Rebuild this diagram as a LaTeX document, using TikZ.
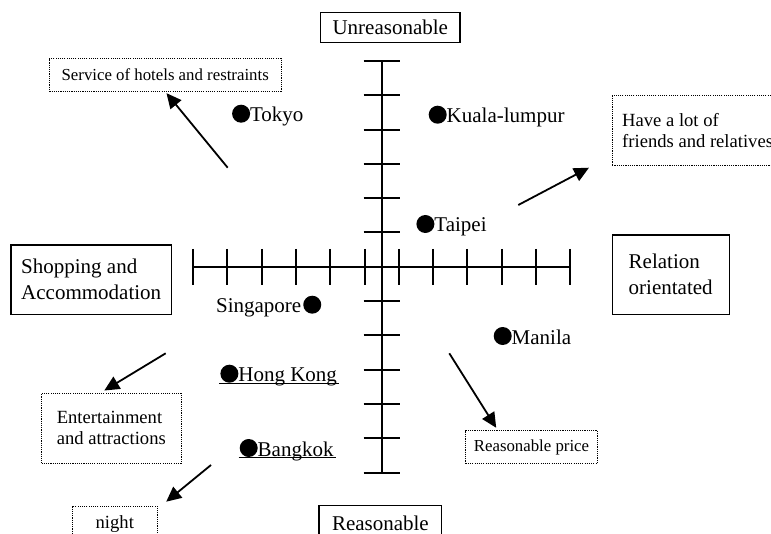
\documentclass[tikz,border=0pt]{standalone}
\usepackage{fontspec}
\setmainfont{Liberation Serif}
\usetikzlibrary{arrows.meta,calc}
\newsavebox{\citybox}
\newcommand{\citydot}{\tikz[baseline=0pt]\fill (4.5pt,4pt) circle[radius=4.5pt];}
\newcommand{\cityline}[1]{\sbox{\citybox}{#1}%
  \kern-0.5pt\rlap{\rule[-1.1pt]{\dimexpr\wd\citybox+1.5pt\relax}{0.6pt}}\kern0.5pt\usebox{\citybox}}
\tikzset{
  axisbox/.style={draw,line width=0.6pt,inner sep=0pt,align=left,
    font=\fontsize{10.5}{13}\selectfont},
  notebox/.style={draw,line width=0.5pt,dash pattern=on 0.55pt off 0.55pt,
    inner sep=0pt,align=left},
  smallnote/.style={notebox,font=\fontsize{8.4}{10}\selectfont},
  midnote/.style={notebox,font=\fontsize{9.3}{10.5}\selectfont},
  city/.style={inner sep=0pt,anchor=base west,font=\fontsize{10.5}{13}\selectfont},
  axisline/.style={line width=1pt},
  pull/.style={-{Triangle[length=7.5pt,width=7pt]},line width=0.9pt},
}
\begin{document}
\begin{tikzpicture}[x=0.5pt,y=-0.5pt]
  \useasboundingbox (0,0) rectangle (771,534);
  \clip (0,0) rectangle (771,534);
  % axes
  \coordinate (o) at (381.7,266.8);
  \draw[axisline] ($(o)+(0,-205.8)$) -- ($(o)+(0,205.8)$);
  \draw[axisline] ($(o)+(-188.65,0)$) -- ($(o)+(188.65,0)$);
  \foreach \k in {1,...,6}{
    \draw[axisline] ($(o)+(-18,-34.3*\k)$) -- ++(36,0);
    \draw[axisline] ($(o)+(-18,34.3*\k)$) -- ++(36,0);
  }
  \foreach \k in {0.5,1.5,...,5.5}{
    \draw[axisline] ($(o)+(-34.3*\k,-17.8)$) -- ++(0,35.6);
    \draw[axisline] ($(o)+(34.3*\k,-17.8)$) -- ++(0,35.6);
  }
  % pole labels
  \node[axisbox,minimum width=69.7pt,minimum height=15pt] (unreas) at (390.3,27.7) {Unreasonable};
  \node[axisbox,minimum width=80.2pt,minimum height=34.7pt] (shop) at (91.2,279.7) {Shopping and\\Accommodation};
  \node[axisbox,minimum width=58.4pt,minimum height=39.7pt] (relat) at (670.7,274.7) {Relation\\orientated};
  \node[axisbox,anchor=north,minimum width=61.4pt,inner ysep=5pt,text depth=20pt] (reas) at (380.4,505) {Reasonable};
  % reasons
  \node[smallnote,minimum width=115.8pt,minimum height=16.2pt] (hotel) at (165.2,74.9) {Service of hotels and restraints};
  \node[midnote,anchor=west,inner xsep=5pt,minimum height=35pt] (friend) at (611.7,130.7) {Have a lot of\\friends and relatives};
  \node[midnote,minimum width=69.7pt,minimum height=35pt] (fun) at (111.3,428.3) {Entertainment\\and attractions};
  \node[midnote,anchor=north,minimum width=42.5pt,inner ysep=4.7pt,text depth=20pt] (night) at (114.8,505.7) {night};
  \node[smallnote,minimum width=65.8pt,minimum height=16.3pt] (price) at (531.5,447) {Reasonable price};
  % cities
  \node[city] (tokyo) at (231.7,121.7) {\citydot Tokyo};
  \node[city] (kl) at (428.3,122.7) {\citydot Kuala-lumpur};
  \node[city] (taipei) at (416,232) {\citydot Taipei};
  \node[city] (sing) at (215.7,312.7) {Singapore\kern1pt\citydot};
  \node[city] (hk) at (220,381.7) {\cityline{\citydot Hong Kong}};
  \node[city] (bkk) at (239.3,456) {\cityline{\citydot Bangkok}};
  \node[city] (manila) at (493.3,344) {\citydot Manila};
  % arrows
  \coordinate (tokyotail) at (227.7,167.7);
  \coordinate (kltail) at (518.3,205);
  \coordinate (kltip) at (589,167.7);
  \coordinate (sgtail) at (165.7,353.3);
  \coordinate (bkktail) at (211,465);
  \coordinate (mltail) at (449.3,353.3);
  \draw[pull,shorten >=1pt] (tokyotail) -- (hotel.south);
  \draw[pull] (kltail) -- (kltip);
  \draw[pull] (sgtail) -- ($(fun.north)+(-7,-2.3)$);
  \draw[pull] (bkktail) -- ($(night.north east)+(8.4,-4)$);
  \draw[pull] (mltail) -- ($(price.north west)+(31,-2.4)$);
\end{tikzpicture}
\end{document}
